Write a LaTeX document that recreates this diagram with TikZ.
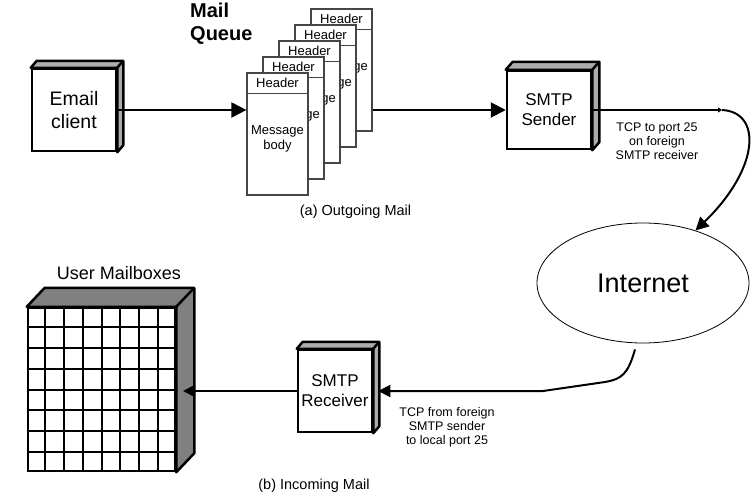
\documentclass[tikz,border=0pt]{standalone}
\usepackage{fontspec}
\setmainfont{Liberation Sans}
\usetikzlibrary{positioning,shapes.geometric,arrows.meta,calc}

\definecolor{facegray}{RGB}{172,172,172}
\definecolor{boxgray}{RGB}{128,128,128}
\definecolor{cardedge}{RGB}{70,70,70}

% top and right faces of a box node: node, dx, dy, colour
\newcommand{\boxsides}[4]{%
  \filldraw[line width=2.5pt, line join=round, fill=#4] (#1.north west) -- ++(#2,-#3) -- ($(#1.north east)+(#2,-#3)$) -- ($(#1.south east)+(#2,-#3)$) -- (#1.south east) -- (#1.north east) -- cycle;
  \draw[line width=2.5pt] (#1.north east) -- ++(#2,-#3);
}

\begin{document}
\begin{tikzpicture}[x=1pt, y=-1pt,
    proc/.style={draw, line width=2.5pt, fill=white, align=center, inner sep=0pt, font=\fontsize{17}{20}\selectfont},
    card/.style={draw=cardedge, line width=1.2pt, fill=white, minimum width=61pt, minimum height=122pt, inner sep=0pt},
    cardtxt/.style={font=\fontsize{13}{15}\selectfont, align=center, inner sep=0pt},
    conn/.style={line width=2pt, -{Triangle[length=15pt,width=15pt]}},
    sconn/.style={line width=2pt, -{Triangle[length=12pt,width=12pt]}},
    note/.style={font=\fontsize{12.5}{14}\selectfont, align=center, inner sep=0pt},
    caption/.style={font=\fontsize{14.5}{17}\selectfont, inner sep=0pt},
]
\useasboundingbox (0,0) rectangle (755,493);

% outgoing
\node[proc, minimum width=84pt, minimum height=82pt, font=\fontsize{19.5}{23}\selectfont] (client) at (74,110) {Email\\client};
\boxsides{client}{6}{7}{facegray}

\node[anchor=west, align=left, inner sep=0pt, font=\fontsize{20}{23}\selectfont\bfseries] (queue) at (190,23.5) {Mail\\Queue};

\foreach \i in {5,...,1} {
  \node[card] (card\i) at ({277.5+16*(\i-1)},{134-16*(\i-1)}) {};
  \draw[draw=cardedge, line width=1.2pt] ([yshift=-21pt]card\i.north west) -- ([yshift=-21pt]card\i.north east);
  \node[cardtxt] at ([yshift=-10.5pt]card\i.north) {Header};
  \node[cardtxt] at ([yshift=-66pt]card\i.north) {Message\\body};
}

\node[proc, minimum width=84pt, minimum height=78pt] (sender) at (549,110) {SMTP\\Sender};
\boxsides{sender}{7}{8}{facegray}

\draw[conn] (client) -- (card1.west |- client);
\draw[conn] (card5.east |- client) -- (sender);

\node[caption] (capa) at (355.5,212) {(a) Outgoing Mail};

% internet
\node[draw, ellipse, line width=0.8pt, minimum width=212pt, minimum height=120pt, inner sep=0pt, font=\fontsize{27}{30}\selectfont] (inet) at (643,283) {Internet};

\coordinate (tcpout) at (722,110);
\draw[line width=2pt, -{Triangle[length=4pt,width=5pt]}] (sender.east) -- (tcpout);
\draw[line width=2pt, -{Triangle[length=13pt,width=13pt]}] (tcpout) .. controls (762,112) and (760,168) .. (inet.45);
\node[note] (tcpa) at (657,141) {TCP to port 25\\on foreign\\SMTP receiver};

% incoming
\node[proc, minimum width=74pt, minimum height=82pt] (recv) at (335,391) {SMTP\\Receiver};
\boxsides{recv}{6}{7}{facegray}

\node[draw, line width=2.5pt, fill=white, minimum width=147pt, minimum height=163pt, inner sep=0pt] (mbox) at (101.5,389.5) {};
\foreach \i in {1,...,7} {
  \draw[line width=2pt] ($(mbox.north west)!\i/8!(mbox.north east)$) -- ($(mbox.south west)!\i/8!(mbox.south east)$);
  \draw[line width=2pt] ($(mbox.north west)!\i/8!(mbox.south west)$) -- ($(mbox.north east)!\i/8!(mbox.south east)$);
}
\boxsides{mbox}{18}{19}{boxgray}
\node[font=\fontsize{18}{21}\selectfont, inner sep=0pt] (mboxlbl) at (119,273) {User Mailboxes};

\coordinate (mside) at (183,391);
\draw[sconn] ([shift={(-8,6)}]inet.south) .. controls (628,374) and (622,379) .. (605,382) -- (543,391) -- ([xshift=5pt]recv.east);
\draw[sconn] (recv) -- (mside);
\node[note] (tcpb) at (447,427) {TCP from foreign\\SMTP sender\\to local port 25};

\node[caption] (capb) at (314,486) {(b) Incoming Mail};

\end{tikzpicture}
\end{document}
